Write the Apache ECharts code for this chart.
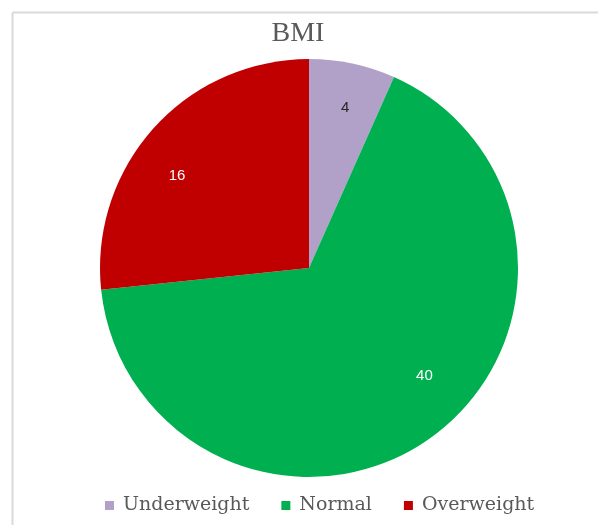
<!DOCTYPE html>
<html>
<head>
    <meta charset="UTF-8"/>
    <title>BMI</title>
    <script type="text/javascript" src="https://cdn.jsdelivr.net/npm/echarts@6/dist/echarts.min.js"></script>
    <style>
        html, body { margin: 0; padding: 0; background: #fff; }
        #chart { width: 598px; height: 525px; }
    </style>
</head>
<body>
<div id="chart"></div>
<script>
    // data
    var categories = ['Underweight', 'Normal', 'Overweight'];
    var counts = [4, 40, 16];
    var colors = ['#b1a0c7', '#00b050', '#c00000'];
    var labelColors = ['#262626', '#ffffff', '#ffffff'];

    // small nudges so the value labels sit where Excel put them
    var labelNudge = {
        Underweight: [2, 0],
        Normal: [19, -25],
        Overweight: [-10, 18]
    };

    var pieData = [];
    for (var i = 0; i < categories.length; i++) {
        pieData.push({
            name: categories[i],
            value: counts[i],
            itemStyle: { color: colors[i] }
        });
    }

    var chart = echarts.init(document.getElementById('chart'));
    var option = {
        animation: false,
        backgroundColor: '#fff',
        title: {
            text: 'BMI',
            left: 293,
            textAlign: 'center',
            top: 15,
            textStyle: {
                fontFamily: 'Liberation Serif',
                fontWeight: 'normal',
                fontSize: 28,
                color: '#595959'
            }
        },
        legend: {
            data: categories,
            left: 100,
            top: 491,
            orient: 'horizontal',
            icon: 'rect',
            itemWidth: 9,
            itemHeight: 9,
            itemGap: 32,
            textStyle: {
                fontFamily: 'DejaVu Serif',
                fontSize: 19,
                color: '#595959',
                padding: [0, 0, 0, 4]
            }
        },
        graphic: [
            { type: 'line', shape: { x1: 12.5, y1: 12.5, x2: 598, y2: 12.5 }, style: { stroke: '#d9d9d9', lineWidth: 2 } },
            { type: 'line', shape: { x1: 12.5, y1: 12.5, x2: 12.5, y2: 525 }, style: { stroke: '#d9d9d9', lineWidth: 2 } }
        ],
        series: [
            {
                type: 'pie',
                center: [309, 268],
                radius: [0, 209],
                startAngle: 90,
                clockwise: true,
                silent: true,
                label: { show: false },
                labelLine: { show: false },
                itemStyle: { borderWidth: 0 },
                data: pieData
            },
            {
                // transparent ring, only used to place the value labels further out
                type: 'pie',
                center: [309, 268],
                radius: [113, 209],
                startAngle: 90,
                clockwise: true,
                silent: true,
                legendHoverLink: false,
                itemStyle: { color: 'rgba(0,0,0,0)', borderWidth: 0 },
                label: {
                    show: true,
                    position: 'inside',
                    formatter: '{c}',
                    fontFamily: 'Liberation Sans',
                    fontSize: 15
                },
                labelLine: { show: false },
                data: pieData.map(function (d, idx) {
                    return {
                        name: d.name,
                        value: d.value,
                        itemStyle: { color: 'rgba(0,0,0,0)' },
                        label: { color: labelColors[idx], offset: labelNudge[d.name] }
                    };
                })
            }
        ]
    };
    chart.setOption(option);
</script>
</body>
</html>
